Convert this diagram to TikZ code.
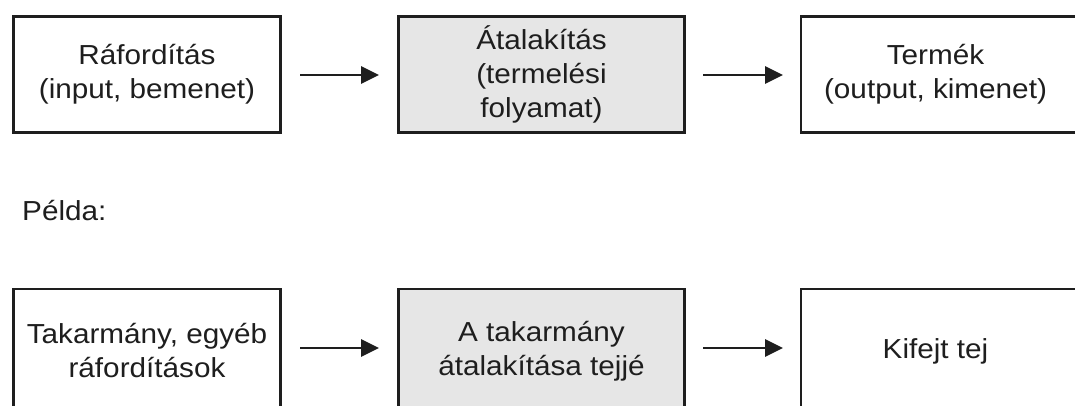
\documentclass[tikz,border=0pt]{standalone}
\usepackage{fontspec}
\setmainfont[FakeStretch=1.08]{Liberation Sans}
\usetikzlibrary{arrows.meta}
\definecolor{boxgray}{HTML}{E6E6E6}
\definecolor{ink}{HTML}{1E1E1E}
\newcommand{\padR}{\hspace*{18pt}}
\begin{document}
\begin{tikzpicture}[x=1pt,y=-1pt,
  every node/.style={font=\fontsize{27.5}{34}\selectfont, text=ink},
  box/.style={draw=ink, line width=2.6pt, fill=white, align=center,
    inner sep=0pt, minimum height=116pt},
  procbox/.style={box, fill=boxgray},
  lowbox/.style={minimum height=124pt},
  flow/.style={draw=ink, line width=2.8pt, -{Triangle[length=18pt,width=17pt]}}]
\useasboundingbox (0,0) rectangle (1075,405);
\clip (0,0) rectangle (1075,405);
\fill[white] (0,0) rectangle (1075,405);
% top row
\node[box, minimum width=267pt] (in) at (147,74.5) {Ráfordítás\\(input, bemenet)};
\node[procbox, minimum width=286pt] (proc) at (541.5,74.5) {Átalakítás\\(termelési\\folyamat)};
\node[box, minimum width=287pt] (out) at (944.5,74.5) {Termék\padR\\(output, kimenet)\padR};
\coordinate (a1s) at (300,75);
\coordinate (a1e) at (379,75);
\coordinate (a2s) at (703,75);
\coordinate (a2e) at (783,75);
\draw[flow] (a1s) -- (a1e);
\draw[flow] (a2s) -- (a2e);
% label
\node[anchor=base west, inner sep=0pt] (pelda) at (22,220) {Példa:};
% bottom row
\node[box, lowbox, minimum width=267pt] (tak) at (147,351) {Takarmány, egyéb\\ráfordítások};
\node[procbox, lowbox, minimum width=286pt] (atal) at (541.5,351) {A takarmány\\átalakítása tejjé};
\node[box, lowbox, minimum width=287pt] (tej) at (944.5,351) {Kifejt tej\padR};
\coordinate (b1s) at (300,348);
\coordinate (b1e) at (379,348);
\coordinate (b2s) at (703,348);
\coordinate (b2e) at (783,348);
\draw[flow] (b1s) -- (b1e);
\draw[flow] (b2s) -- (b2e);
\end{tikzpicture}
\end{document}
